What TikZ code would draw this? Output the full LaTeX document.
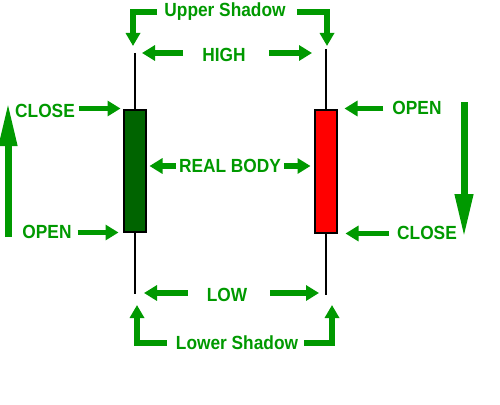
\documentclass[tikz,border=0pt]{standalone}
\usepackage{fontspec}
\usepackage{graphicx}
\setmainfont{Liberation Sans}
\usetikzlibrary{arrows.meta}
\definecolor{lgreen}{RGB}{0,153,0}
\definecolor{dgreen}{RGB}{0,100,0}
\newcommand\tallbox[1]{\scalebox{1}[1.1]{#1}}
\tikzset{
  lbl/.style={text=lgreen, font=\fontsize{17.3}{20}\selectfont\bfseries, inner sep=0pt},
  garrow/.style={draw=lgreen, line width=5.5pt, -{Triangle[width=15pt,length=13pt]}},
  bigarrow/.style={draw=lgreen, line width=7pt, -{Triangle[width=17pt,length=44pt]}},
  bracket/.style={draw=lgreen, line width=5.5pt, -{Triangle[width=14pt,length=13pt]}},
  wick/.style={draw=black, line width=2pt},
  body/.style={draw=black, line width=2pt, minimum width=22pt, inner sep=0pt}
}
\begin{document}
\begin{tikzpicture}[x=1pt,y=-1pt]
\useasboundingbox (0,0) rectangle (500,404);
% candles
\node[body, fill=dgreen, minimum height=122pt] (gbody) at (134.5,170.5) {};
\node[body, fill=red, minimum height=123pt] (rbody) at (325.5,171) {};
\coordinate (gtop) at (134.5,53);
\coordinate (gbot) at (134.5,294);
\coordinate (rtop) at (325.5,49);
\coordinate (rbot) at (325.5,295);
\draw[wick] (gtop) -- (gbody.north);
\draw[wick] (gbody.south) -- (gbot);
\draw[wick] (rtop) -- (rbody.north);
\draw[wick] (rbody.south) -- (rbot);
% labels
\node[lbl] (us) at (225,12) {\tallbox{Upper Shadow}};
\node[lbl] (high) at (224,55) {\tallbox{HIGH}};
\node[lbl] (closeL) at (45,111) {\tallbox{CLOSE}};
\node[lbl] (openL) at (47,232) {\tallbox{OPEN}};
\node[lbl] (rb) at (230,166) {\tallbox{REAL BODY}};
\node[lbl] (openR) at (417,108) {\tallbox{OPEN}};
\node[lbl] (closeR) at (427,233) {\tallbox{CLOSE}};
\node[lbl] (low) at (227,295) {\tallbox{LOW}};
\node[lbl] (ls) at (237,343) {\tallbox{Lower Shadow}};
% upper shadow brackets
\coordinate (usL) at (133,46);
\coordinate (usR) at (327,46);
\draw[bracket] ([xshift=-7pt]us.west) -| (usL);
\draw[bracket] ([xshift=11pt]us.east) -| (usR);
% high arrows
\coordinate (hiL) at (142,53);
\coordinate (hiR) at (312,53);
\draw[garrow] ([xshift=-19pt]high.west |- hiL) -- (hiL);
\draw[garrow] ([xshift=23pt]high.east |- hiR) -- (hiR);
% left side
\draw[garrow] ([xshift=4pt]closeL.east |- gbody.north west) -- ([xshift=-2pt]gbody.north west);
\draw[garrow] ([xshift=6pt]openL.east |- gbody.south west) -- ([xshift=-4pt]gbody.south west);
\coordinate (upS) at (8,237);
\coordinate (upE) at (8,102);
\draw[bigarrow] (upS) -- (upE);
% real body
\draw[garrow] ([xshift=-3pt]rb.west) -- ([xshift=3pt]gbody.east |- rb.west);
\draw[garrow] ([xshift=3pt]rb.east) -- ([xshift=-3pt]rbody.west |- rb.east);
% right side
\draw[garrow] ([xshift=-9pt]openR.west |- rbody.north east) -- ([xshift=7pt]rbody.north east);
\draw[garrow] ([xshift=-8pt]closeR.west |- rbody.south east) -- ([xshift=8pt]rbody.south east);
\coordinate (dnS) at (464,102);
\coordinate (dnE) at (464,238);
\draw[bigarrow] (dnS) -- (dnE);
% low arrows
\coordinate (loL) at (144,293);
\coordinate (loR) at (319,293);
\draw[garrow] ([xshift=-19pt]low.west |- loL) -- (loL);
\draw[garrow] ([xshift=23pt]low.east |- loR) -- (loR);
% lower shadow brackets
\coordinate (lsL) at (137,305);
\coordinate (lsR) at (332,305);
\draw[bracket] ([xshift=-9pt]ls.west) -| (lsL);
\draw[bracket] ([xshift=6pt]ls.east) -| (lsR);
\end{tikzpicture}
\end{document}
